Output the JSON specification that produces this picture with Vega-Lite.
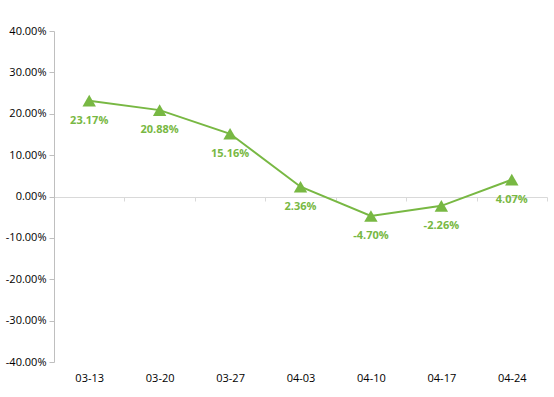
{
  "$schema": "https://vega.github.io/schema/vega-lite/v6.json",
  "width": 493,
  "height": 331,
  "autosize": {"type": "none"},
  "padding": {"left": 54, "top": 31, "right": 7, "bottom": 35},
  "background": "white",
  "config": {"view": {"stroke": null}, "font": "Open Sans"},
  "data": {"values": [
    {"date": "03-13", "value": 0.2317, "label": "23.17%"},
    {"date": "03-20", "value": 0.2088, "label": "20.88%"},
    {"date": "03-27", "value": 0.1516, "label": "15.16%"},
    {"date": "04-03", "value": 0.0236, "label": "2.36%"},
    {"date": "04-10", "value": -0.0470, "label": "-4.70%"},
    {"date": "04-17", "value": -0.0226, "label": "-2.26%"},
    {"date": "04-24", "value": 0.0407, "label": "4.07%"}
  ]},
  "encoding": {
    "x": {"field": "date", "type": "ordinal", "sort": null,
      "scale": {"paddingInner": 0, "paddingOuter": 0},
      "axis": {"title": null, "labelAngle": 0, "offset": -165, "domainColor": "#d9d9d9", "tickColor": "#d9d9d9", "tickBand": "extent", "tickSize": 4, "labelPadding": 171, "labelFontSize": 11, "labelColor": "#000000", "labelFont": "Open Sans"}},
    "y": {"field": "value", "type": "quantitative",
      "scale": {"domain": [-0.4, 0.4], "nice": false},
      "axis": {"title": null, "values": [-0.4, -0.3, -0.2, -0.1, 0, 0.1, 0.2, 0.3, 0.4], "labelExpr": "replace(format(datum.value, '.2%'), '\u2212', '-')", "grid": false, "domainColor": "#bfbfbf", "tickColor": "#bfbfbf", "tickSize": 5, "labelFontSize": 11, "labelColor": "#000000", "labelPadding": 3}}
  },
  "layer": [
    {"mark": {"type": "line", "color": "#78b843", "strokeWidth": 2}},
    {"mark": {"type": "point", "shape": "triangle-up", "filled": true, "opacity": 1, "color": "#78b843", "size": 180}},
    {"mark": {"type": "text", "color": "#78b843", "fontWeight": "bold", "fontSize": 11, "dy": 20, "baseline": "middle"},
     "encoding": {"text": {"field": "label"}}}
  ]
}
